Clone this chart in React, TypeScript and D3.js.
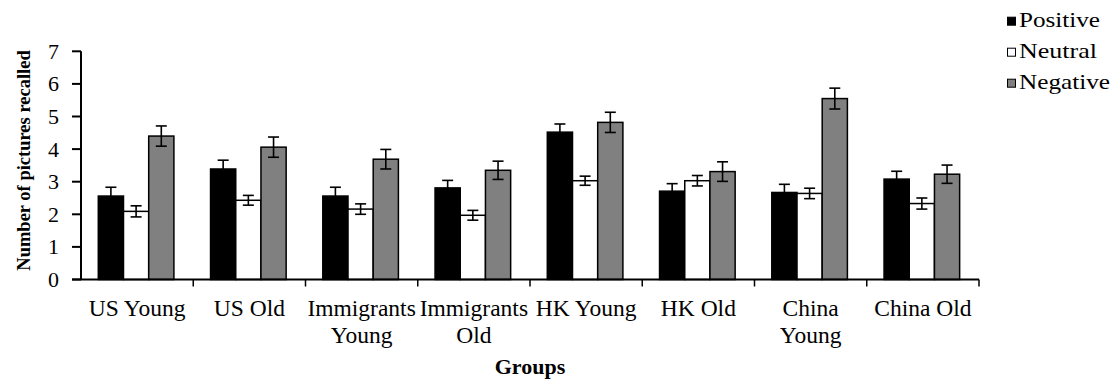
import React from "react";
import * as d3 from "d3";

const groups = ["US Young", "US Old", "Immigrants Young", "Immigrants Old", "HK Young", "HK Old", "China Young", "China Old"];
const groupLines = [["US Young"], ["US Old"], ["Immigrants", "Young"], ["Immigrants", "Old"], ["HK Young"], ["HK Old"], ["China", "Young"], ["China Old"]];
const seriesNames = ["Positive", "Neutral", "Negative"];
const positive = [2.56, 3.39, 2.56, 2.81, 4.52, 2.71, 2.67, 3.08];
const positiveErr = [0.27, 0.27, 0.27, 0.23, 0.25, 0.23, 0.25, 0.24];
const neutral = [2.09, 2.43, 2.16, 1.97, 3.03, 3.03, 2.64, 2.33];
const neutralErr = [0.17, 0.15, 0.16, 0.15, 0.14, 0.16, 0.16, 0.17];
const negative = [4.4, 4.06, 3.69, 3.35, 4.82, 3.31, 5.55, 3.23];
const negativeErr = [0.31, 0.31, 0.3, 0.28, 0.31, 0.3, 0.32, 0.28];
const yTicks = [0, 1, 2, 3, 4, 5, 6, 7];

const values = [positive, neutral, negative];
const errors = [positiveErr, neutralErr, negativeErr];
const fills = ["#000000", "#ffffff", "#808080"];
const legendWidths = [81, 78, 91];

const serif = "'Liberation Serif', 'Times New Roman', Times, serif";
const textStyle: React.CSSProperties = { fontFamily: serif };

export default function App() {
  const left = 81, right = 979, bottom = 279.5, top = 51.3;
  const y = d3.scaleLinear().domain([0, 7]).range([bottom, top]);
  const x0 = d3.scaleBand<string>().domain(groups).range([left, right]).paddingInner(0).paddingOuter(0);
  const x1 = d3.scaleBand<string>().domain(seriesNames).range([17.3, 92.9]).padding(0);
  const cap = 5.5;

  return (
    <svg width={1113} height={380} style={{ position: "absolute", left: 0, top: 0, background: "#fff", fontFamily: serif }}>
      <rect x={0} y={0} width={1113} height={380} fill="#fff" />
      {groups.map((g, gi) => (
        <g key={g} transform={`translate(${x0(g)},0)`}>
          {seriesNames.map((s, si) => {
            const v = values[si][gi];
            const bx = x1(s)!;
            const bw = x1.bandwidth();
            return (
              <rect key={s} x={bx} y={y(v)} width={bw} height={bottom - y(v)} fill={fills[si]} stroke="#000" strokeWidth={1.5} />
            );
          })}
          {seriesNames.map((s, si) => {
            const v = values[si][gi];
            const e = errors[si][gi];
            const cx = x1(s)! + x1.bandwidth() / 2;
            return (
              <g key={s + "e"} stroke="#000" strokeWidth={1.6}>
                <line x1={cx} x2={cx} y1={y(v + e)} y2={y(v - e)} />
                <line x1={cx - cap} x2={cx + cap} y1={y(v + e)} y2={y(v + e)} />
                <line x1={cx - cap} x2={cx + cap} y1={y(v - e)} y2={y(v - e)} />
              </g>
            );
          })}
        </g>
      ))}
      <line x1={left} x2={left} y1={top} y2={bottom} stroke="#000" strokeWidth={2} />
      {yTicks.map((t) => (
        <g key={t}>
          <line x1={left - 9} x2={left} y1={y(t)} y2={y(t)} stroke="#000" strokeWidth={2} />
          <text x={59} y={y(t)} dy="0.34em" textAnchor="end" fontSize={22} fill="#000" style={textStyle}>{t}</text>
        </g>
      ))}
      <line x1={left - 9} x2={right} y1={bottom} y2={bottom} stroke="#000" strokeWidth={2} />
      {groups.map((g) => (
        <line key={g + "t"} x1={x0(g)! + x0.bandwidth()} x2={x0(g)! + x0.bandwidth()} y1={bottom} y2={bottom + 7} stroke="#000" strokeWidth={1.5} />
      ))}
      {groups.map((g, gi) => (
        <text key={g + "l"} x={x0(g)! + x0.bandwidth() / 2} y={315.7} textAnchor="middle" fontSize={23.5} fill="#000" style={textStyle}>
          {groupLines[gi].map((ln, li) => (
            <tspan key={li} x={x0(g)! + x0.bandwidth() / 2} dy={li === 0 ? 0 : 27}>{ln}</tspan>
          ))}
        </text>
      ))}
      <text x={(left + right) / 2} y={374} textAnchor="middle" fontSize={22} fontWeight="bold" fill="#000" style={textStyle}>Groups</text>
      <text transform={`translate(30,${(53 + 268) / 2}) rotate(-90)`} textAnchor="middle" fontSize={18.5} fontWeight="bold" fill="#000" style={textStyle}>Number of pictures recalled</text>
      {seriesNames.map((s, si) => {
        const by = 26.7 + si * 31;
        return (
          <g key={s + "lg"}>
            <rect x={1007.5} y={by - 9.5} width={8} height={8} fill={fills[si]} stroke="#000" strokeWidth={1} />
            <text x={1019} y={by} fontSize={21} fill="#000" style={textStyle} textLength={legendWidths[si]} lengthAdjust="spacingAndGlyphs">{s}</text>
          </g>
        );
      })}
    </svg>
  );
}
